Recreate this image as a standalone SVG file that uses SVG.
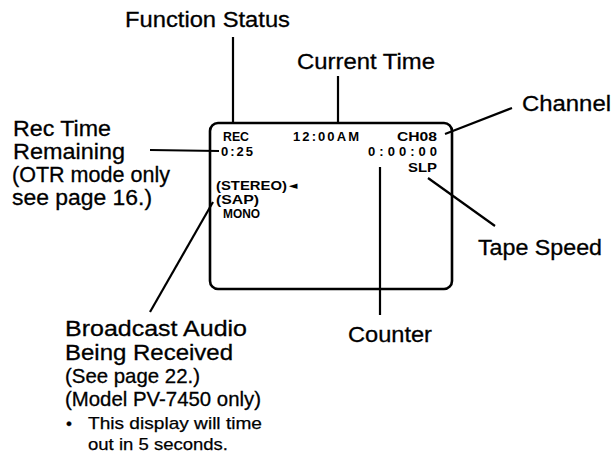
<svg xmlns="http://www.w3.org/2000/svg" width="613" height="459" viewBox="0 0 613 459">
<style>
.lbl{font-family:"Liberation Sans",Arial,sans-serif;font-size:22px;fill:#000;stroke:#000;stroke-width:0.3}
.lbs{font-family:"Liberation Sans",Arial,sans-serif;font-size:21px;fill:#000;stroke:#000;stroke-width:0.3}
.sm{font-family:"Liberation Sans",Arial,sans-serif;font-size:17px;fill:#000;stroke:#000;stroke-width:0.25}
.osd{font-family:"Liberation Sans",Arial,sans-serif;font-size:13px;font-weight:bold;fill:#000}
.ln{stroke:#000;stroke-width:2.2;fill:none;stroke-linecap:butt}
</style>
<rect width="613" height="459" fill="#fff"/>
<g id="screen">
<rect x="210" y="123" width="242" height="166" rx="8" ry="8" fill="none" stroke="#000" stroke-width="2.6"/>
<text class="osd" x="223" y="141" textLength="26" lengthAdjust="spacingAndGlyphs">REC</text>
<text class="osd" x="293" y="141" textLength="66" lengthAdjust="spacing">12:00AM</text>
<text class="osd" x="397" y="141" textLength="40" lengthAdjust="spacingAndGlyphs">CH08</text>
<text class="osd" x="221" y="156" textLength="32" lengthAdjust="spacing">0:25</text>
<text class="osd" x="368" y="156" textLength="69" lengthAdjust="spacing">0:00:00</text>
<text class="osd" x="408" y="172" textLength="29" lengthAdjust="spacingAndGlyphs">SLP</text>
<text class="osd" x="216" y="190" textLength="71" lengthAdjust="spacingAndGlyphs">(STEREO)</text>
<text x="289" y="189" font-family="DejaVu Sans" font-size="11" fill="#000">◄</text>
<text class="osd" x="216" y="204" textLength="43" lengthAdjust="spacingAndGlyphs">(SAP)</text>
<text class="osd" x="223" y="218" textLength="37" lengthAdjust="spacingAndGlyphs">MONO</text>
</g>
<g id="function-status"><text class="lbl" x="125" y="27" textLength="165" lengthAdjust="spacingAndGlyphs">Function Status</text></g>
<g id="current-time"><text class="lbl" x="297" y="69" textLength="138" lengthAdjust="spacingAndGlyphs">Current Time</text></g>
<g id="channel"><text class="lbl" x="522" y="111" textLength="89" lengthAdjust="spacingAndGlyphs">Channel</text></g>
<g id="rec-time">
<text class="lbl" x="13" y="136" textLength="98" lengthAdjust="spacingAndGlyphs">Rec Time</text>
<text class="lbl" x="13" y="159" textLength="112" lengthAdjust="spacingAndGlyphs">Remaining</text>
<text class="lbl" x="12" y="182" textLength="158" lengthAdjust="spacingAndGlyphs">(OTR mode only</text>
<text class="lbl" x="12" y="205" textLength="140" lengthAdjust="spacingAndGlyphs">see page 16.)</text>
</g>
<g id="tape-speed"><text class="lbl" x="478" y="255" textLength="124" lengthAdjust="spacingAndGlyphs">Tape Speed</text></g>
<g id="counter"><text class="lbl" x="348" y="342" textLength="84" lengthAdjust="spacingAndGlyphs">Counter</text></g>
<g id="broadcast-audio">
<text class="lbl" x="65" y="336" textLength="182" lengthAdjust="spacingAndGlyphs">Broadcast Audio</text>
<text class="lbl" x="65" y="360" textLength="168" lengthAdjust="spacingAndGlyphs">Being Received</text>
<text class="lbs" x="65" y="383" textLength="135" lengthAdjust="spacingAndGlyphs">(See page 22.)</text>
<text class="lbs" x="65" y="406" textLength="196" lengthAdjust="spacingAndGlyphs">(Model PV-7450 only)</text>
<text class="sm" x="66" y="429">•</text>
<text class="sm" x="88" y="429" textLength="174" lengthAdjust="spacingAndGlyphs">This display will time</text>
<text class="sm" x="88" y="450" textLength="140" lengthAdjust="spacingAndGlyphs">out in 5 seconds.</text>
</g>
<g id="connectors">
<line class="ln" x1="233" y1="37" x2="233" y2="123"/>
<line class="ln" x1="338" y1="76" x2="338" y2="123"/>
<line class="ln" x1="445" y1="134" x2="512" y2="108"/>
<line class="ln" x1="150" y1="150" x2="219" y2="151"/>
<line class="ln" x1="428" y1="178" x2="495" y2="226"/>
<line class="ln" x1="380" y1="167" x2="380" y2="315"/>
<line class="ln" x1="213" y1="202" x2="150" y2="312"/>
</g>
</svg>
